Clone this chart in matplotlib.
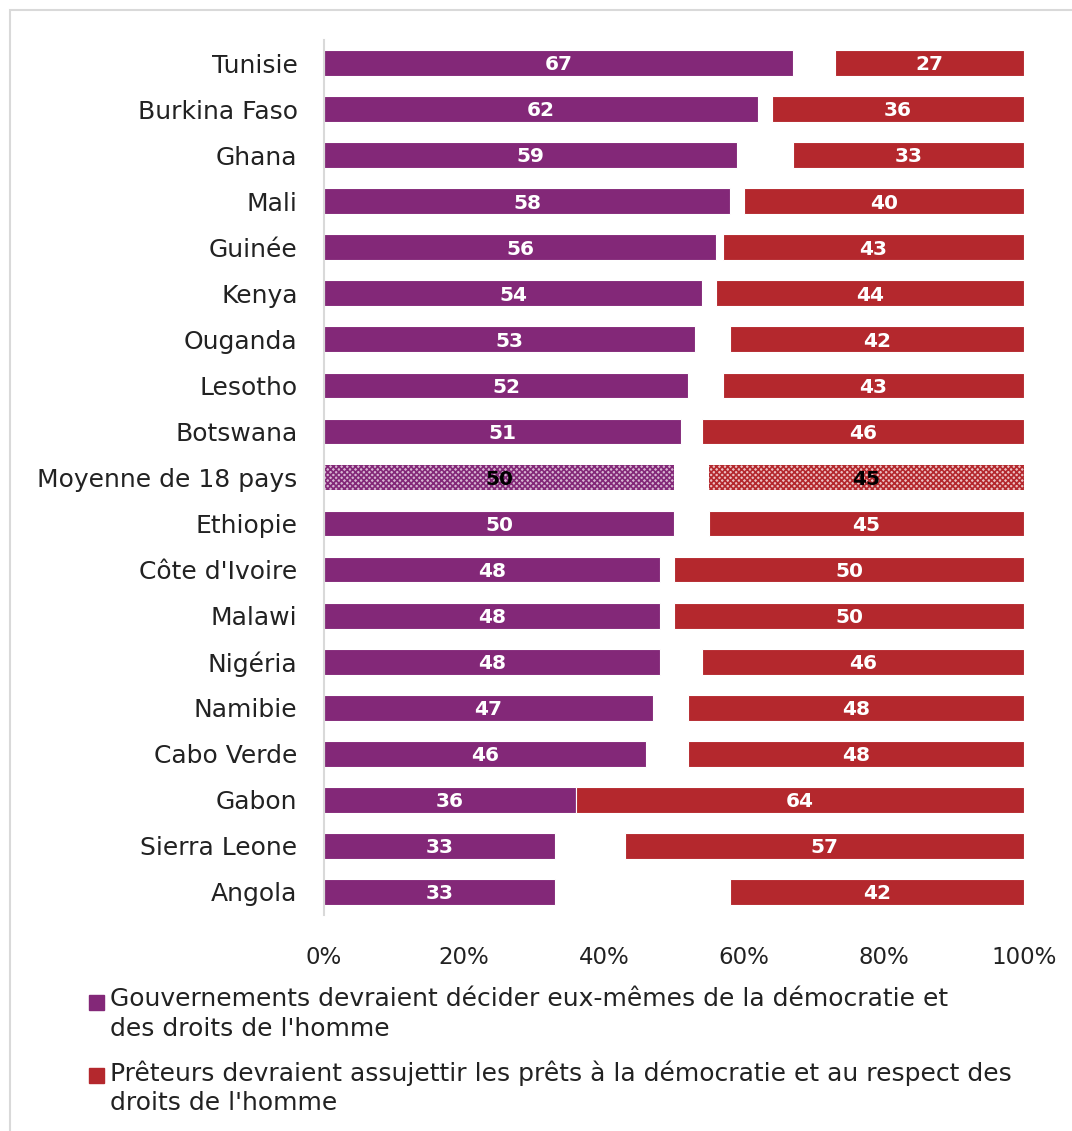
import matplotlib
matplotlib.use("Agg")
import matplotlib.pyplot as plt
from matplotlib.patches import Rectangle
import numpy as np

plt.rcParams['font.family'] = ['DejaVu Sans']

# data
pays = ["Tunisie", "Burkina Faso", "Ghana", "Mali", "Guinée", "Kenya", "Ouganda",
        "Lesotho", "Botswana", "Moyenne de 18 pays", "Ethiopie", "Côte d'Ivoire",
        "Malawi", "Nigéria", "Namibie", "Cabo Verde", "Gabon", "Sierra Leone", "Angola"]
gouvernements = [67, 62, 59, 58, 56, 54, 53, 52, 51, 50, 50, 48, 48, 48, 47, 46, 36, 33, 33]
preteurs = [27, 36, 33, 40, 43, 44, 42, 43, 46, 45, 45, 50, 50, 46, 48, 48, 64, 57, 42]
xticks = [0, 20, 40, 60, 80, 100]
legende = ["Gouvernements devraient décider eux-mêmes de la démocratie et\ndes droits de l'homme",
           "Prêteurs devraient assujettir les prêts à la démocratie et au respect des\ndroits de l'homme"]

violet = "#832878"
rouge = "#B4282D"

W, H = 1072, 1131
fig = plt.figure(figsize=(W / 100, H / 100), dpi=100)
ax = fig.add_axes([324 / W, 1 - 915 / H, 700 / W, 875 / H])

# light frame around the whole figure
fig.patches.append(Rectangle((10 / W, -0.1), 1.2, 1 - 10 / H + 0.1, transform=fig.transFigure,
                             fill=False, edgecolor="#d9d9d9", linewidth=1.5))

y = np.arange(len(pays))
gv = np.array(gouvernements)
pr = np.array(preteurs)
moy = pays.index("Moyenne de 18 pays")

plt.rcParams['hatch.linewidth'] = 1.2
for i in y:
    if i == moy:
        ax.barh(i, gv[i], height=0.56, color="#d7b5d2", hatch="xxxxxx",
                edgecolor=violet, linewidth=0)
        ax.barh(i, pr[i], left=100 - pr[i], height=0.56, color="#ecc0c2", hatch="xxxxxx",
                edgecolor=rouge, linewidth=0)
        tc = "black"
    else:
        ax.barh(i, gv[i], height=0.56, color=violet, edgecolor="white", linewidth=0.8)
        ax.barh(i, pr[i], left=100 - pr[i], height=0.56, color=rouge,
                edgecolor="white", linewidth=0.8)
        tc = "white"
    ax.text(gv[i] / 2, i + 0.04, str(gv[i]), ha="center", va="center", color=tc,
            fontsize=14.5, fontweight="bold")
    ax.text(100 - pr[i] / 2, i + 0.04, str(pr[i]), ha="center", va="center", color=tc,
            fontsize=14.5, fontweight="bold")

ax.set_ylim(len(pays) - 0.5, -0.5)
ax.set_xlim(0, 100)
ax.set_yticks(y)
ax.set_yticklabels(pays, fontsize=18, color="#222222")
ax.set_xticks(xticks)
ax.set_xticklabels([f"{t}%" for t in xticks], fontsize=16.5, color="#222222")
ax.tick_params(length=0)
ax.tick_params(axis="y", pad=19)
ax.tick_params(axis="x", pad=22)
for s in ["top", "right", "bottom"]:
    ax.spines[s].set_visible(False)
ax.spines["left"].set_color("#d9d9d9")
ax.spines["left"].set_linewidth(1.5)

# legend drawn by hand so the square sits on the first line
for k, (lab, c) in enumerate(zip(legende, [violet, rouge])):
    ytop = 1003 + k * 73
    fig.patches.append(Rectangle((89 / W, 1 - (ytop + 7) / H), 15 / W, 15 / H,
                                 transform=fig.transFigure, color=c))
    fig.text(110 / W, 1 - (ytop - 16) / H, lab, fontsize=18, color="#222222",
             va="top", ha="left", linespacing=1.3)

fig.savefig("out.png", dpi=100)
